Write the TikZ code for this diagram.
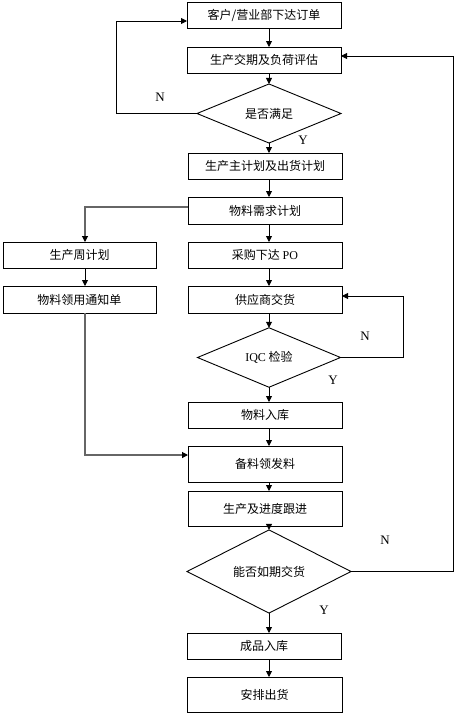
\documentclass[tikz,border=0pt]{standalone}
\usepackage{fontspec}
\setmainfont{Liberation Serif}
\newfontfamily\cjk{Noto Sans CJK SC}
\usetikzlibrary{shapes.geometric,arrows.meta}
\begin{document}
\begin{tikzpicture}[x=1pt,y=-1pt,
  box/.style={draw,line width=0.9pt,rectangle,inner sep=0pt,outer sep=0pt,font=\cjk\fontsize{12}{12}\selectfont},
  dia/.style={draw,line width=0.9pt,diamond,inner sep=0pt,outer sep=0pt,font=\cjk\fontsize{12}{12}\selectfont},
  arr/.style={line width=0.9pt,-{Triangle[length=6pt,width=6pt]}},
  garr/.style={line width=1.1pt,draw=black!60,-{Triangle[length=6pt,width=6pt,fill=black,color=black]}},
  lab/.style={font=\fontsize{13}{13}\selectfont,inner sep=0pt}]
\useasboundingbox (0,0) rectangle (458,716);
\fill[white] (0,0) rectangle (458,716);
% boxes
\node[box,minimum width=154pt,minimum height=26pt] (b1) at (264,15) {客户/营业部下达订单};
\node[box,minimum width=154pt,minimum height=26pt] (b2) at (264,60) {生产交期及负荷评估};
\node[dia,minimum width=144pt,minimum height=45pt] (d1) at (269,113.5) {是否满足};
\node[box,minimum width=154pt,minimum height=26pt] (b3) at (265,166) {生产主计划及出货计划};
\node[box,minimum width=154pt,minimum height=27pt] (b4) at (265,210.5) {物料需求计划};
\node[box,minimum width=153pt,minimum height=26pt] (b5) at (79.5,255) {生产周计划};
\node[box,minimum width=154pt,minimum height=26pt] (b6) at (265,255) {采购下达 {\rmfamily PO}};
\node[box,minimum width=153pt,minimum height=27pt] (b7) at (79.5,299.5) {物料领用通知单};
\node[box,minimum width=154pt,minimum height=27pt] (b8) at (265,299.5) {供应商交货};
\node[dia,minimum width=143pt,minimum height=51pt] (d2) at (269,357.5) {{\rmfamily IQC} 检验};
\node[box,minimum width=154pt,minimum height=26pt] (b9) at (265,415) {物料入库};
\node[box,minimum width=154pt,minimum height=36pt] (b10) at (265,464) {备料领发料};
\node[box,minimum width=154pt,minimum height=35pt] (b11) at (265,508.5) {生产及进度跟进};
\node[dia,minimum width=164pt,minimum height=71pt] (d3) at (269,571.5) {能否如期交货};
\node[box,minimum width=154pt,minimum height=26pt] (b12) at (264,646) {成品入库};
\node[box,minimum width=155pt,minimum height=35pt] (b13) at (264.5,694.5) {安排出货};
% labels
\node[lab] (n1) at (160,97) {N};
\node[lab] (y1) at (303,140) {Y};
\node[lab] (n2) at (365,336) {N};
\node[lab] (y2) at (333,380) {Y};
\node[lab] (n3) at (385,540) {N};
\node[lab] (y3) at (324,610) {Y};
% axis
\coordinate (ax) at (269,0);
\draw[arr] (b1.south -| ax) -- (b2.north -| ax);
\draw[arr] (b2.south -| ax) -- (d1.north);
\draw[arr] (d1.south) -- (b3.north -| ax);
\draw[arr] (b3.south -| ax) -- (b4.north -| ax);
\draw[arr] (b4.south -| ax) -- (b6.north -| ax);
\draw[arr] (b6.south -| ax) -- (b8.north -| ax);
\draw[arr] (b8.south -| ax) -- (d2.north);
\draw[arr] (d2.south) -- (b9.north -| ax);
\draw[arr] (b9.south -| ax) -- (b10.north -| ax);
\draw[arr] (b10.south -| ax) -- (b11.north -| ax);
\draw[arr] (b11.south -| ax) -- (d3.north);
\draw[arr] (d3.south) -- (b12.north -| ax);
\draw[arr] (b12.south -| ax) -- (b13.north -| ax);
% loops
\coordinate (l1) at (116,21);
\draw[arr] (d1.west) -| (l1) -- (l1 -| b1.west);
\coordinate (r1) at (453,56);
\draw[arr] (d3.east) -| (r1) -- (r1 -| b2.east);
\coordinate (r2) at (403,296);
\draw[arr] (d2.east) -| (r2) -- (r2 -| b8.east);
\coordinate (l2) at (85,207);
\draw[garr] (l2 -| b4.west) -- (l2) -- (l2 |- b5.north);
\draw[arr] (b5.south -| l2) -- (b7.north -| l2);
\coordinate (l3) at (85,455);
\draw[garr] (b7.south -| l3) -- (l3) -- (l3 -| b10.west);
\end{tikzpicture}
\end{document}
